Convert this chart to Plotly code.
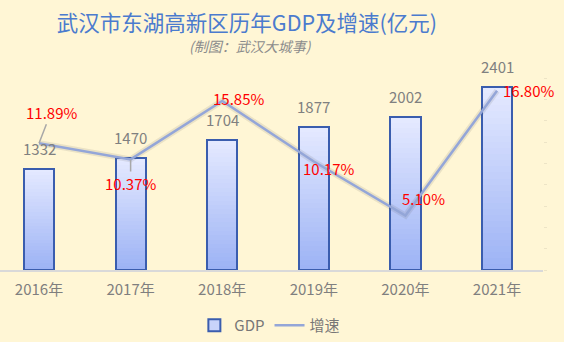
import plotly.graph_objects as go

years = ["2016年", "2017年", "2018年", "2019年", "2020年", "2021年"]
gdp = [1332, 1470, 1704, 1877, 2002, 2401]
growth = [11.89, 10.37, 15.85, 10.17, 5.10, 16.80]
growth_labels = ["11.89%", "10.37%", "15.85%", "10.17%", "5.10%", "16.80%"]

# label offsets in pixels (style only)
label_dx = [12, 0, 16, 15, 18, 31]
label_dy = [-31, 24, -2, 7, -17, 0]
label_arrow = [True, True, False, False, False, False]

FONT = "Noto Sans CJK SC, Microsoft YaHei, sans-serif"
BG = "#FFF6D5"
top_rgb = (228, 233, 255)
bot_rgb = (157, 179, 245)
BAR_W = 0.33

fig = go.Figure()

# gradient bars: overlayed layers, each a fraction of the bar value
K = 30
for k in range(K):
    frac = 1 - k / K
    t = k / (K - 1)
    c = tuple(round(top_rgb[i] + (bot_rgb[i] - top_rgb[i]) * t) for i in range(3))
    fig.add_trace(go.Bar(
        x=years, y=[v * frac for v in gdp], width=BAR_W,
        marker=dict(color="rgb(%d,%d,%d)" % c, line=dict(width=0)),
        showlegend=False, hoverinfo="skip",
    ))

# outline
fig.add_trace(go.Bar(
    x=years, y=gdp, width=BAR_W, name="GDP",
    marker=dict(color="rgba(0,0,0,0)", line=dict(color="#3A5DAE", width=2)),
    showlegend=False,
))
# legend entry
fig.add_trace(go.Bar(
    x=years, y=[None] * len(years), name="GDP",
    marker=dict(color="#C8D3FA", line=dict(color="#3A5DAE", width=2)),
    showlegend=True,
))

# line shadow
fig.add_trace(go.Scatter(
    x=years, y=growth, yaxis="y2", mode="lines",
    line=dict(color="rgba(80,80,80,0.12)", width=6),
    showlegend=False, hoverinfo="skip",
))
fig.add_trace(go.Scatter(
    x=years, y=growth, yaxis="y2", mode="lines", name="增速",
    line=dict(color="#94A6D8", width=2.5),
))

annotations = []
for x, v in zip(years, gdp):
    annotations.append(dict(
        x=x, y=v, xref="x", yref="y", text=str(v), showarrow=False,
        yanchor="bottom", yshift=8, font=dict(size=15, color="#808080", family=FONT),
    ))
for x, v, lab, dx, dy, arr in zip(years, growth, growth_labels, label_dx, label_dy, label_arrow):
    if arr:
        annotations.append(dict(
            x=x, y=v, xref="x", yref="y2", text=lab, showarrow=True,
            ax=dx, ay=dy, arrowhead=0, arrowwidth=1.5, arrowcolor="#A8A8A8", standoff=0,
            font=dict(size=15, color="#FF0000", family=FONT),
        ))
    else:
        annotations.append(dict(
            x=x, y=v, xref="x", yref="y2", text=lab, showarrow=False,
            xshift=dx, yshift=-dy, font=dict(size=15, color="#FF0000", family=FONT),
        ))

# subtitle (paper coords relative to plot area: top 78px, bottom 270px)
annotations.append(dict(
    x=250 / 543, y=(270 - 46) / 192, xref="paper", yref="paper", yanchor="middle",
    text="(制图：武汉大城事)", showarrow=False,
    font=dict(size=14, color="#8C8C8C", family=FONT, style="italic"),
))

fig.update_layout(
    width=564, height=342,
    margin=dict(l=0, r=21, t=78, b=72),
    paper_bgcolor=BG, plot_bgcolor=BG,
    barmode="overlay", bargap=0,
    font=dict(family=FONT, color="#777777", size=15),
    title=dict(
        text="武汉市东湖高新区历年GDP及增速(亿元)",
        x=247 / 564, xanchor="center", y=1 - 23 / 342, yanchor="middle",
        font=dict(size=21.5, color="#4B7BCE", family=FONT),
    ),
    xaxis=dict(
        type="category", range=[-0.426, 5.502],
        showline=True, linecolor="#D9D9D9", linewidth=2,
        showgrid=False, ticks="", tickfont=dict(size=15, color="#7F7F7F"),
        ticklabelstandoff=5,
    ),
    yaxis=dict(range=[0, 2520], showgrid=False, showticklabels=False,
               zeroline=False, showline=False),
    yaxis2=dict(range=[0, 18], dtick=2, overlaying="y", side="right",
                showgrid=False, showticklabels=False, zeroline=False,
                ticks="outside", ticklen=3, tickwidth=1, tickcolor="#EDE4C6"),
    legend=dict(orientation="h", x=0.497, xanchor="center", y=-0.292, yanchor="middle",
                font=dict(size=15, color="#777777"), bgcolor="rgba(0,0,0,0)",
                traceorder="normal"),
    annotations=annotations,
    showlegend=True,
)

fig.write_html("out.html")
